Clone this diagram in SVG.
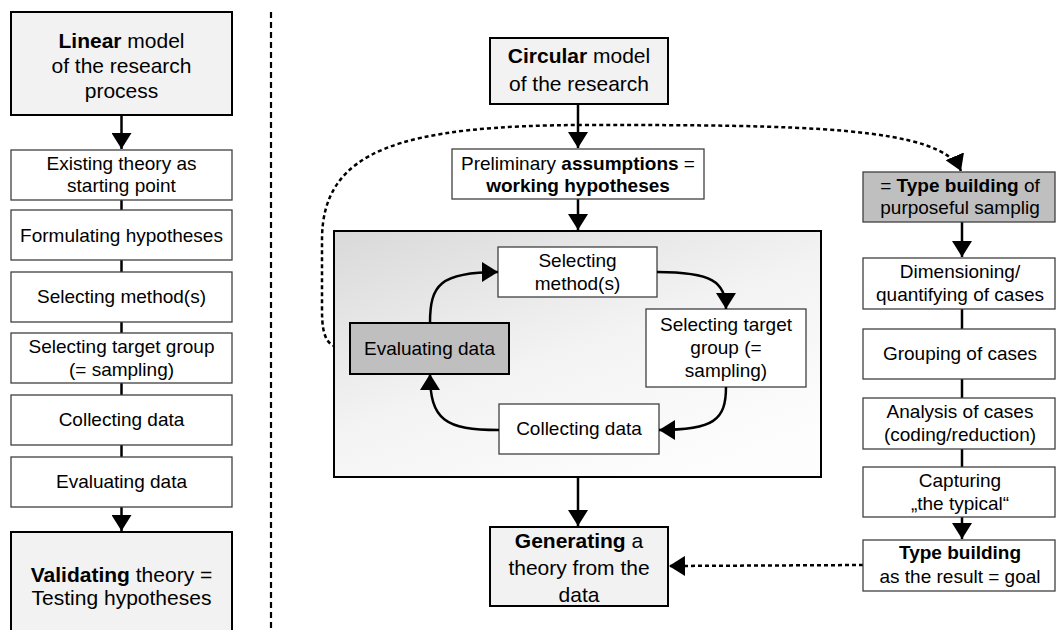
<svg xmlns="http://www.w3.org/2000/svg" width="1056" height="630" viewBox="0 0 1056 630">
<style>
text{font-family:"Liberation Sans",Arial,sans-serif;font-size:19px;fill:#000;text-anchor:middle}
.b{font-weight:bold}
.t21{font-size:21px}
.box{fill:#fff;stroke:#404040;stroke-width:1.3}
.main{fill:#f2f2f2;stroke:#000;stroke-width:2}
.gray{fill:#bfbfbf;stroke:#000;stroke-width:2}
.gray1{fill:#bfbfbf;stroke:#404040;stroke-width:1.3}
.ln{fill:none;stroke:#000;stroke-width:2.5}
.ar{fill:none;stroke:#000;stroke-width:2.5;marker-end:url(#ah)}
.dot{fill:none;stroke:#000;stroke-width:2.5;stroke-dasharray:4 3;marker-end:url(#ah)}
</style>
<defs>
<marker id="ah" markerUnits="userSpaceOnUse" markerWidth="16" markerHeight="20" refX="16" refY="10" orient="auto">
<path d="M0,0 L16,10 L0,20 z" fill="#000"/>
</marker>
<linearGradient id="bg" x1="0" y1="0" x2="0.7" y2="1">
<stop offset="0" stop-color="#d9d9d9"/>
<stop offset="0.55" stop-color="#f3f3f3"/>
<stop offset="1" stop-color="#fdfdfd"/>
</linearGradient>
</defs>

<line x1="271" y1="12" x2="271" y2="630" stroke="#000" stroke-width="2.2" stroke-dasharray="6 4"/>

<g id="connectors">
<line class="ar" x1="121.5" y1="115" x2="121.5" y2="149"/>
<line class="ln" x1="121.5" y1="200" x2="121.5" y2="210"/>
<line class="ln" x1="121.5" y1="260" x2="121.5" y2="272"/>
<line class="ln" x1="121.5" y1="322" x2="121.5" y2="333"/>
<line class="ln" x1="121.5" y1="383" x2="121.5" y2="395"/>
<line class="ln" x1="121.5" y1="445" x2="121.5" y2="457"/>
<line class="ar" x1="121.5" y1="507" x2="121.5" y2="531"/>
<line class="ar" x1="578" y1="104" x2="578" y2="148"/>
<line class="ar" x1="578" y1="199" x2="578" y2="230"/>
<line class="ar" x1="578" y1="477" x2="578" y2="526"/>
<line class="ar" x1="962" y1="222" x2="962" y2="257"/>
<line class="ln" x1="962" y1="309" x2="962" y2="329"/>
<line class="ln" x1="962" y1="379" x2="962" y2="398"/>
<line class="ln" x1="962" y1="449" x2="962" y2="467"/>
<line class="ar" x1="962" y1="517" x2="962" y2="539"/>
<path class="dot" d="M863,565 L669,566"/>
<path class="dot" d="M350,349 C328,349 322,340 322,310 L322,240 C322,150 400,125 590,125 C800,125 942,126 961,171"/>
</g>

<g id="linear"><rect class="main" x="11" y="12" width="221" height="103"/>
<text class="t21" x="121.5" y="48"><tspan class="b">Linear</tspan> model</text>
<text class="t21" x="121.5" y="73">of the research</text>
<text class="t21" x="121.5" y="98">process</text></g>
<g id="l-existing"><rect class="box" x="11" y="150" width="221" height="50"/>
<text x="121.5" y="170">Existing theory as</text><text x="121.5" y="192">starting point</text></g>
<g id="l-formulating"><rect class="box" x="11" y="210" width="221" height="50"/>
<text x="121.5" y="242">Formulating hypotheses</text></g>
<g id="l-method"><rect class="box" x="11" y="272" width="221" height="50"/>
<text x="121.5" y="303">Selecting method(s)</text></g>
<g id="l-target"><rect class="box" x="11" y="333" width="221" height="50"/>
<text x="121.5" y="353">Selecting target group</text><text x="121.5" y="376">(= sampling)</text></g>
<g id="l-collecting"><rect class="box" x="11" y="395" width="221" height="50"/>
<text x="121.5" y="426">Collecting data</text></g>
<g id="l-evaluating"><rect class="box" x="11" y="457" width="221" height="50"/>
<text x="121.5" y="488">Evaluating data</text></g>
<g id="validating"><rect class="main" x="11" y="532" width="221" height="102"/>
<text class="t21" x="121.5" y="582"><tspan class="b">Validating</tspan> theory =</text>
<text class="t21" x="121.5" y="605">Testing hypotheses</text></g>

<g id="circular"><rect class="main" x="490" y="38" width="178" height="66"/>
<text class="t21" x="579" y="63"><tspan class="b">Circular</tspan> model</text>
<text class="t21" x="579" y="91">of the research</text></g>
<g id="preliminary"><rect class="box" x="452" y="149" width="252" height="50"/>
<text x="578" y="170">Preliminary <tspan class="b">assumptions</tspan> =</text>
<text class="b" x="578" y="192">working hypotheses</text></g>
<g id="cycle"><rect x="334" y="231" width="487" height="246" fill="url(#bg)" stroke="#000" stroke-width="2"/></g>
<g id="c-method"><rect class="box" x="498" y="247" width="159" height="50"/>
<text x="577.5" y="267">Selecting</text><text x="577.5" y="290">method(s)</text></g>
<g id="c-target"><rect class="box" x="646" y="309" width="160" height="78"/>
<text x="726" y="331">Selecting target</text><text x="726" y="354">group (=</text><text x="726" y="377">sampling)</text></g>
<g id="c-collecting"><rect class="box" x="499" y="404" width="160" height="50"/>
<text x="579" y="435">Collecting data</text></g>
<g id="c-evaluating"><rect class="gray" x="350" y="323" width="159" height="51"/>
<text x="429.5" y="355">Evaluating data</text></g>
<g id="cycle-arrows">
<path class="ar" d="M430,323 C430,285 440,272 498,272"/>
<path class="ar" d="M657,272 C712,272 726,282 726,309"/>
<path class="ar" d="M726,387 C726,420 714,430 659,430"/>
<path class="ar" d="M499,430 C445,430 430,420 430,374"/>
</g>
<g id="generating"><rect class="main" x="490" y="527" width="178" height="79"/>
<text class="t21" x="579" y="548"><tspan class="b">Generating</tspan> a</text>
<text class="t21" x="579" y="575">theory from the</text>
<text class="t21" x="579" y="602">data</text></g>

<g id="r-type"><rect class="gray1" x="863" y="172" width="192" height="50"/>
<text x="960" y="192">= <tspan class="b">Type building</tspan> of</text>
<text x="960" y="214">purposeful samplig</text></g>
<g id="r-dimension"><rect class="box" x="863" y="258" width="192" height="51"/>
<text x="960" y="278">Dimensioning/</text><text x="960" y="301">quantifying of cases</text></g>
<g id="r-grouping"><rect class="box" x="863" y="329" width="192" height="50"/>
<text x="960" y="360">Grouping of cases</text></g>
<g id="r-analysis"><rect class="box" x="863" y="398" width="192" height="51"/>
<text x="960" y="418">Analysis of cases</text><text x="960" y="441">(coding/reduction)</text></g>
<g id="r-capturing"><rect class="box" x="863" y="467" width="192" height="50"/>
<text x="960" y="487">Capturing</text><text x="960" y="510">„the typical“</text></g>
<g id="r-result"><rect class="box" x="863" y="540" width="192" height="51"/>
<text class="b" x="960" y="559">Type building</text><text x="960" y="583">as the result = goal</text></g>
</svg>
